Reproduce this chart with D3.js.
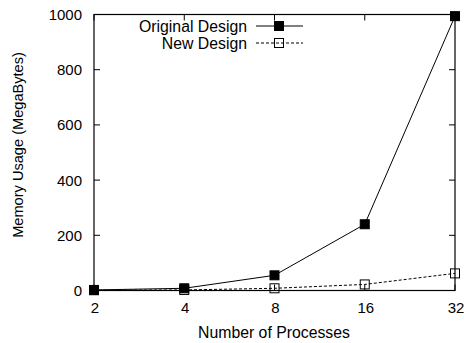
<!DOCTYPE html>
<html>
<head>
<meta charset="utf-8">
<script src="https://cdn.jsdelivr.net/npm/d3@7"></script>
<style>
  html, body { margin: 0; padding: 0; background: #fff; }
  svg { display: block; font-family: "Liberation Sans", Arial, Helvetica, sans-serif; }
</style>
</head>
<body>
<svg id="chart" width="464" height="343"></svg>
<script>
// Memory usage per number of processes, two designs
const processes = ["2", "4", "8", "16", "32"];
const originalDesign = [2, 8, 55, 240, 994];
const newDesign = [1, 2, 8, 22, 62];
const yTicks = [0, 200, 400, 600, 800, 1000];
const seriesNames = ["Original Design", "New Design"];

const svg = d3.select("#chart");
const plot = { left: 94, right: 455, top: 14.5, bottom: 290.5 };

const x = d3.scalePoint().domain(processes).range([plot.left, plot.right]);
const y = d3.scaleLinear().domain([0, 1000]).range([plot.bottom, plot.top]);

const tickLen = 6;

// Plot frame
svg.append("rect")
  .attr("x", plot.left).attr("y", plot.top)
  .attr("width", plot.right - plot.left).attr("height", plot.bottom - plot.top)
  .attr("fill", "none").attr("stroke", "#000").attr("stroke-width", 1.2);

// Inward ticks on all four sides
const ticks = svg.append("g").attr("stroke", "#000").attr("stroke-width", 1);
yTicks.forEach(v => {
  ticks.append("line").attr("x1", plot.left).attr("x2", plot.left + tickLen)
    .attr("y1", y(v)).attr("y2", y(v));
  ticks.append("line").attr("x1", plot.right).attr("x2", plot.right - tickLen)
    .attr("y1", y(v)).attr("y2", y(v));
});
processes.forEach(p => {
  ticks.append("line").attr("x1", x(p)).attr("x2", x(p))
    .attr("y1", plot.bottom).attr("y2", plot.bottom - tickLen);
  ticks.append("line").attr("x1", x(p)).attr("x2", x(p))
    .attr("y1", plot.top).attr("y2", plot.top + tickLen);
});

// Tick labels
svg.append("g").selectAll("text").data(yTicks).join("text")
  .attr("x", plot.left - 12).attr("y", d => y(d))
  .attr("dy", "0.36em").attr("text-anchor", "end")
  .attr("font-size", 15).attr("fill", "#000")
  .text(d => d);

svg.append("g").selectAll("text").data(processes).join("text")
  .attr("x", d => x(d) + 1).attr("y", plot.bottom + 22)
  .attr("text-anchor", "middle")
  .attr("font-size", 15).attr("fill", "#000")
  .text(d => d);

// Axis titles
svg.append("text")
  .attr("x", 274).attr("y", 338)
  .attr("text-anchor", "middle").attr("font-size", 15.8)
  .text("Number of Processes");

svg.append("text")
  .attr("transform", "translate(23,145) rotate(-90)")
  .attr("text-anchor", "middle").attr("font-size", 14.6)
  .text("Memory Usage (MegaBytes)");

// Series
const line = d3.line().x((d, i) => x(processes[i])).y(d => y(d));
const markerSize = 9;

const series = [
  { name: seriesNames[0], values: originalDesign, dash: null, filled: true },
  { name: seriesNames[1], values: newDesign, dash: "3,2", filled: false }
];

function drawMarker(g, cx, cy, filled) {
  g.append("rect")
    .attr("x", cx - markerSize / 2).attr("y", cy - markerSize / 2)
    .attr("width", markerSize).attr("height", markerSize)
    .attr("fill", filled ? "#000" : "none")
    .attr("stroke", "#000").attr("stroke-width", 1);
}

// draw "New Design" first so the solid series sits on top
series.slice().reverse().forEach(s => {
  const g = svg.append("g");
  g.append("path").datum(s.values)
    .attr("d", line).attr("fill", "none")
    .attr("stroke", "#000").attr("stroke-width", 1)
    .attr("stroke-dasharray", s.dash);
  s.values.forEach((v, i) => drawMarker(g, x(processes[i]), y(v), s.filled));
});

// Legend
const legend = svg.append("g");
series.forEach((s, i) => {
  const ly = 26 + i * 17;
  legend.append("text")
    .attr("x", 247).attr("y", ly).attr("dy", "0.36em")
    .attr("text-anchor", "end").attr("font-size", 15.8)
    .text(s.name);
  legend.append("line")
    .attr("x1", 256).attr("x2", 303).attr("y1", ly).attr("y2", ly)
    .attr("stroke", "#000").attr("stroke-width", 1)
    .attr("stroke-dasharray", s.dash);
  drawMarker(legend, 279, ly, s.filled);
});
</script>
</body>
</html>
